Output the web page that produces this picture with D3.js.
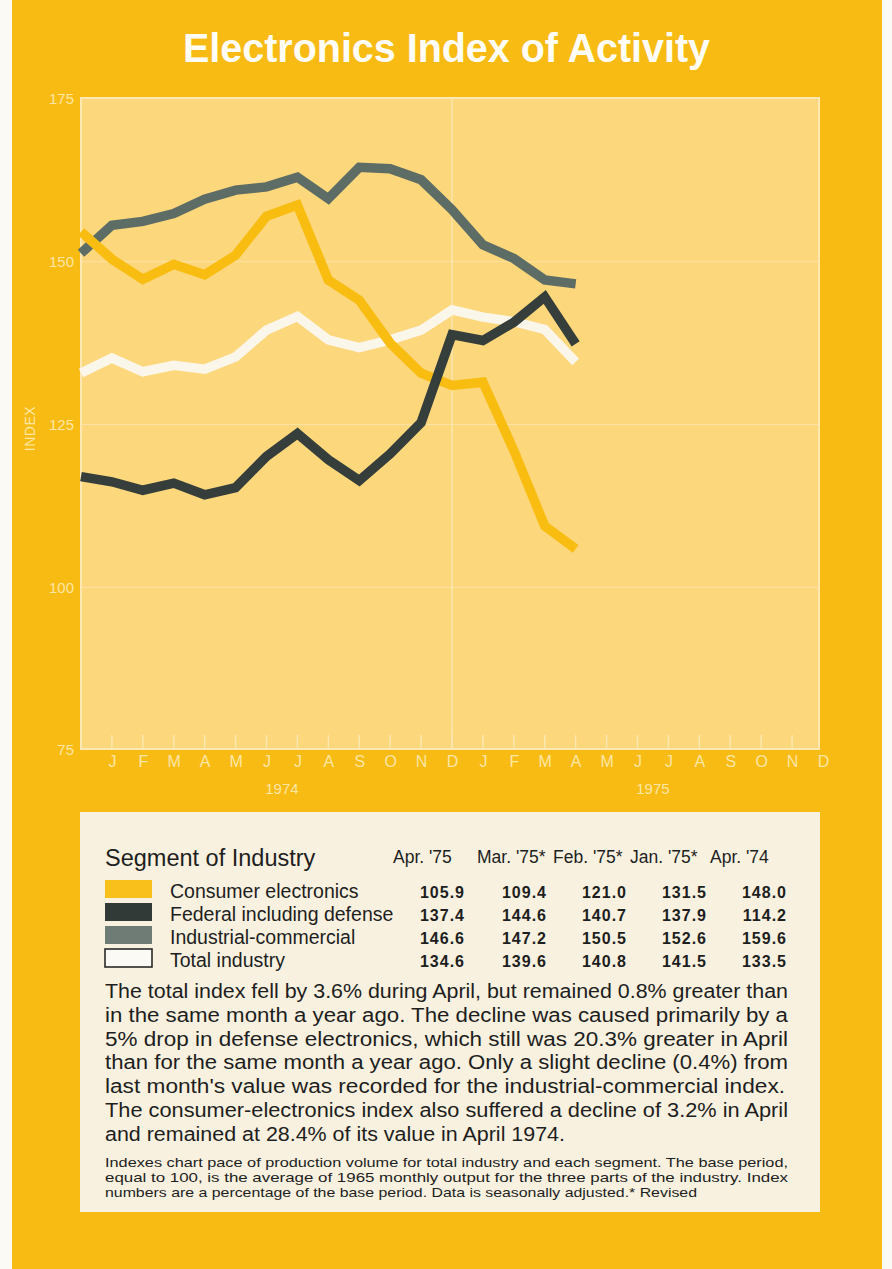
<!DOCTYPE html>
<html>
<head>
<meta charset="utf-8">
<script src="https://cdn.jsdelivr.net/npm/d3@7"></script>
<style>
  html, body { margin: 0; padding: 0; background: #fbfaf4; }
  svg { display: block; }
  text { font-family: "Liberation Sans", Arial, Helvetica, sans-serif; }
</style>
</head>
<body>
<svg id="chart" width="892" height="1269"></svg>
<script>
// ---- data -------------------------------------------------------------
// Month labels along the time axis (Jan 1974 .. Dec 1975)
const monthLabels = ["J","F","M","A","M","J","J","A","S","O","N","D",
                     "J","F","M","A","M","J","J","A","S","O","N","D"];
const yearLabels = ["1974", "1975"];
const yTickValues = [75, 100, 125, 150, 175];

// Monthly index values, Dec 1973 (index 0) through Apr 1975 (index 16)
const consumerElectronics = [154.6, 150.4, 147.3, 149.6, 148.0, 151.0, 157.0, 158.7, 147.2,
                             144.1, 137.5, 132.9, 131.0, 131.5, 121.0, 109.4, 105.9];
const federalDefense      = [117.0, 116.2, 114.9, 116.0, 114.2, 115.3, 120.1, 123.6, 119.6,
                             116.4, 120.5, 125.3, 138.8, 137.9, 140.7, 144.6, 137.4];
const industrialCommercial= [151.3, 155.6, 156.2, 157.4, 159.6, 161.0, 161.5, 163.0, 159.7,
                             164.5, 164.3, 162.6, 158.0, 152.6, 150.5, 147.2, 146.6];
const totalIndustry       = [132.9, 135.2, 133.1, 134.1, 133.5, 135.4, 139.5, 141.6, 138.0,
                             136.8, 138.0, 139.5, 142.6, 141.5, 140.8, 139.6, 134.6];

// Table columns: header text and the series index each one reports
const tableHeaders = ["Apr. '75", "Mar. '75*", "Feb. '75*", "Jan. '75*", "Apr. '74"];
const tableIndices = [16, 15, 14, 13, 4];

const segmentNames = ["Consumer electronics", "Federal including defense",
                      "Industrial-commercial", "Total industry"];

const paragraphLines = [
  "The total index fell by 3.6% during April, but remained 0.8% greater than",
  "in the same month a year ago. The decline was caused primarily by a",
  "5% drop in defense electronics, which still was 20.3% greater in April",
  "than for the same month a year ago. Only a slight decline (0.4%) from",
  "last month's value was recorded for the industrial-commercial index.",
  "The consumer-electronics index also suffered a decline of 3.2% in April",
  "and remained at 28.4% of its value in April 1974."
];
const footnoteLines = [
  "Indexes chart pace of production volume for total industry and each segment. The base period,",
  "equal to 100, is the average of 1965 monthly output for the three parts of the industry. Index",
  "numbers are a percentage of the base period.  Data is seasonally adjusted.* Revised"
];

// ---- styling ------------------------------------------------------------
const C = {
  page: "#f8bb14",
  plot: "#fcd77b",
  pale: "#fde8b4",
  label: "#fde6a6",
  consumer: "#f9bd12",
  federal: "#353e3a",
  industrial: "#5d6c64",
  total: "#fbf6ea",
  box: "#f8f1df",
  ink: "#1e1e1e"
};

const segments = [
  { name: segmentNames[0], values: consumerElectronics,  color: C.consumer,   swatch: "#f9c01c" },
  { name: segmentNames[1], values: federalDefense,       color: C.federal,    swatch: "#323a37" },
  { name: segmentNames[2], values: industrialCommercial, color: C.industrial, swatch: "#6e7c75" },
  { name: segmentNames[3], values: totalIndustry,        color: C.total,      swatch: "#fbfaf5" }
];

// ---- layout -------------------------------------------------------------
const svg = d3.select("#chart");
const plot = { left: 81, right: 819, top: 98, bottom: 749 };

svg.append("rect").attr("x", 12).attr("y", 0).attr("width", 870).attr("height", 1269)
  .attr("fill", C.page);

// Title
svg.append("text")
  .attr("x", 183).attr("y", 62)
  .attr("textLength", 527).attr("lengthAdjust", "spacingAndGlyphs")
  .attr("font-size", 41).attr("font-weight", "bold").attr("fill", "#fffdf6")
  .text("Electronics Index of Activity");

// Scales: position 0 = Dec 1973, 12 = Dec 1974, 24 = Dec 1975
const x = d3.scaleLinear().domain([0, 24]).range([81, 823]);
const y = d3.scaleLinear().domain([75, 175]).range([750, 99]);

// Plot panel
svg.append("rect")
  .attr("x", plot.left).attr("y", plot.top)
  .attr("width", plot.right - plot.left).attr("height", plot.bottom - plot.top)
  .attr("fill", C.plot);

// Horizontal grid lines
svg.append("g").selectAll("line")
  .data(yTickValues.filter(v => v > 75 && v < 175))
  .join("line")
  .attr("x1", plot.left).attr("x2", plot.right)
  .attr("y1", d => y(d)).attr("y2", d => y(d))
  .attr("stroke", C.pale).attr("stroke-width", 1.2).attr("opacity", 0.75);

// Year divider at December 1974
svg.append("line")
  .attr("x1", x(12)).attr("x2", x(12))
  .attr("y1", plot.top).attr("y2", plot.bottom)
  .attr("stroke", C.pale).attr("stroke-width", 1.5).attr("opacity", 0.9);

// Month tick marks rising from the bottom edge
svg.append("g").selectAll("line")
  .data(d3.range(1, 24))
  .join("line")
  .attr("x1", d => x(d)).attr("x2", d => x(d))
  .attr("y1", plot.bottom).attr("y2", plot.bottom - 14)
  .attr("stroke", C.pale).attr("stroke-width", 1.4);

// Panel frame
svg.append("rect")
  .attr("x", plot.left).attr("y", plot.top)
  .attr("width", plot.right - plot.left).attr("height", plot.bottom - plot.top)
  .attr("fill", "none").attr("stroke", C.pale).attr("stroke-width", 2);

// Y axis labels
const yAxis = d3.axisLeft(y).tickValues(yTickValues).tickSize(0).tickPadding(0);
const gy = svg.append("g").attr("transform", "translate(74,0)").call(yAxis);
gy.select(".domain").remove();
gy.selectAll("text")
  .attr("font-family", "Liberation Sans, Arial, sans-serif")
  .attr("font-size", 15).attr("fill", C.label);

svg.append("text")
  .attr("transform", `translate(35,${y(125) + 4}) rotate(-90)`)
  .attr("text-anchor", "middle")
  .attr("font-size", 14).attr("fill", C.label).attr("letter-spacing", 0.5)
  .text("INDEX");

// X axis month labels
const xAxis = d3.axisBottom(x)
  .tickValues(d3.range(1, 25))
  .tickFormat((d, i) => monthLabels[i])
  .tickSize(0).tickPadding(0);
const gx = svg.append("g").attr("transform", "translate(0,755)").call(xAxis);
gx.select(".domain").remove();
gx.selectAll("text")
  .attr("font-family", "Liberation Sans, Arial, sans-serif")
  .attr("font-size", 16).attr("fill", C.label).attr("dy", "0.72em");

svg.append("g").selectAll("text")
  .data(yearLabels)
  .join("text")
  .attr("x", (d, i) => x(6.5 + i * 12))
  .attr("y", 794)
  .attr("text-anchor", "middle")
  .attr("font-size", 15).attr("fill", C.label)
  .text(d => d);

// Series lines
const line = d3.line().x((d, i) => x(i)).y(d => y(d));
const drawOrder = [3, 2, 0, 1];
svg.append("g").selectAll("path")
  .data(drawOrder.map(i => segments[i]))
  .join("path")
  .attr("d", d => line(d.values))
  .attr("fill", "none")
  .attr("stroke", d => d.color)
  .attr("stroke-width", 9.5)
  .attr("stroke-linejoin", "miter")
  .attr("stroke-miterlimit", 3)
  .attr("stroke-linecap", "butt");

// ---- table box ------------------------------------------------------------
svg.append("rect")
  .attr("x", 80).attr("y", 812).attr("width", 740).attr("height", 400)
  .attr("fill", C.box);

svg.append("text")
  .attr("x", 105).attr("y", 866)
  .attr("font-size", 23.5).attr("fill", C.ink)
  .text("Segment of Industry");

const colRight = [465, 547, 627, 707, 787];
const headerStart = [393, 477, 553, 630, 710];
svg.append("g").selectAll("text")
  .data(tableHeaders)
  .join("text")
  .attr("x", (d, i) => headerStart[i]).attr("y", 863)
  .attr("font-size", 17.5).attr("fill", C.ink)
  .text(d => d);

const rowBase = [898, 921, 944, 967];
const fmt = d3.format(".1f");

// Swatches
svg.append("g").selectAll("rect")
  .data(segments)
  .join("rect")
  .attr("x", 105).attr("y", (d, i) => rowBase[i] - 18)
  .attr("width", 47).attr("height", 18)
  .attr("fill", d => d.swatch)
  .attr("stroke", (d, i) => i === 3 ? "#2a2a2a" : "none")
  .attr("stroke-width", 1.6);

svg.append("g").selectAll("text")
  .data(segments)
  .join("text")
  .attr("x", 170).attr("y", (d, i) => rowBase[i])
  .attr("font-size", 19.5).attr("fill", C.ink)
  .text(d => d.name);

const cells = segments.flatMap((s, r) =>
  tableIndices.map((idx, c) => ({ r, c, v: s.values[idx] })));
svg.append("g").selectAll("text")
  .data(cells)
  .join("text")
  .attr("x", d => colRight[d.c]).attr("y", d => rowBase[d.r])
  .attr("text-anchor", "end")
  .attr("font-size", 16).attr("font-weight", "bold")
  .attr("letter-spacing", 1).attr("fill", C.ink)
  .text(d => fmt(d.v));

// Commentary paragraph, justified except the last line
const paraWidths = [683, 683, 683, 683, 680, 683, 460];
svg.append("g").selectAll("text")
  .data(paragraphLines)
  .join("text")
  .attr("x", 105).attr("y", (d, i) => 998 + i * 23.8)
  .attr("font-size", 19.5).attr("fill", C.ink)
  .attr("textLength", (d, i) => paraWidths[i]).attr("lengthAdjust", "spacingAndGlyphs")
  .text(d => d);

const noteWidths = [683, 683, 592];
svg.append("g").selectAll("text")
  .data(footnoteLines)
  .join("text")
  .attr("x", 105).attr("y", (d, i) => 1167 + i * 15)
  .attr("font-size", 13).attr("fill", C.ink)
  .attr("textLength", (d, i) => noteWidths[i]).attr("lengthAdjust", "spacingAndGlyphs")
  .text(d => d);
</script>
</body>
</html>
